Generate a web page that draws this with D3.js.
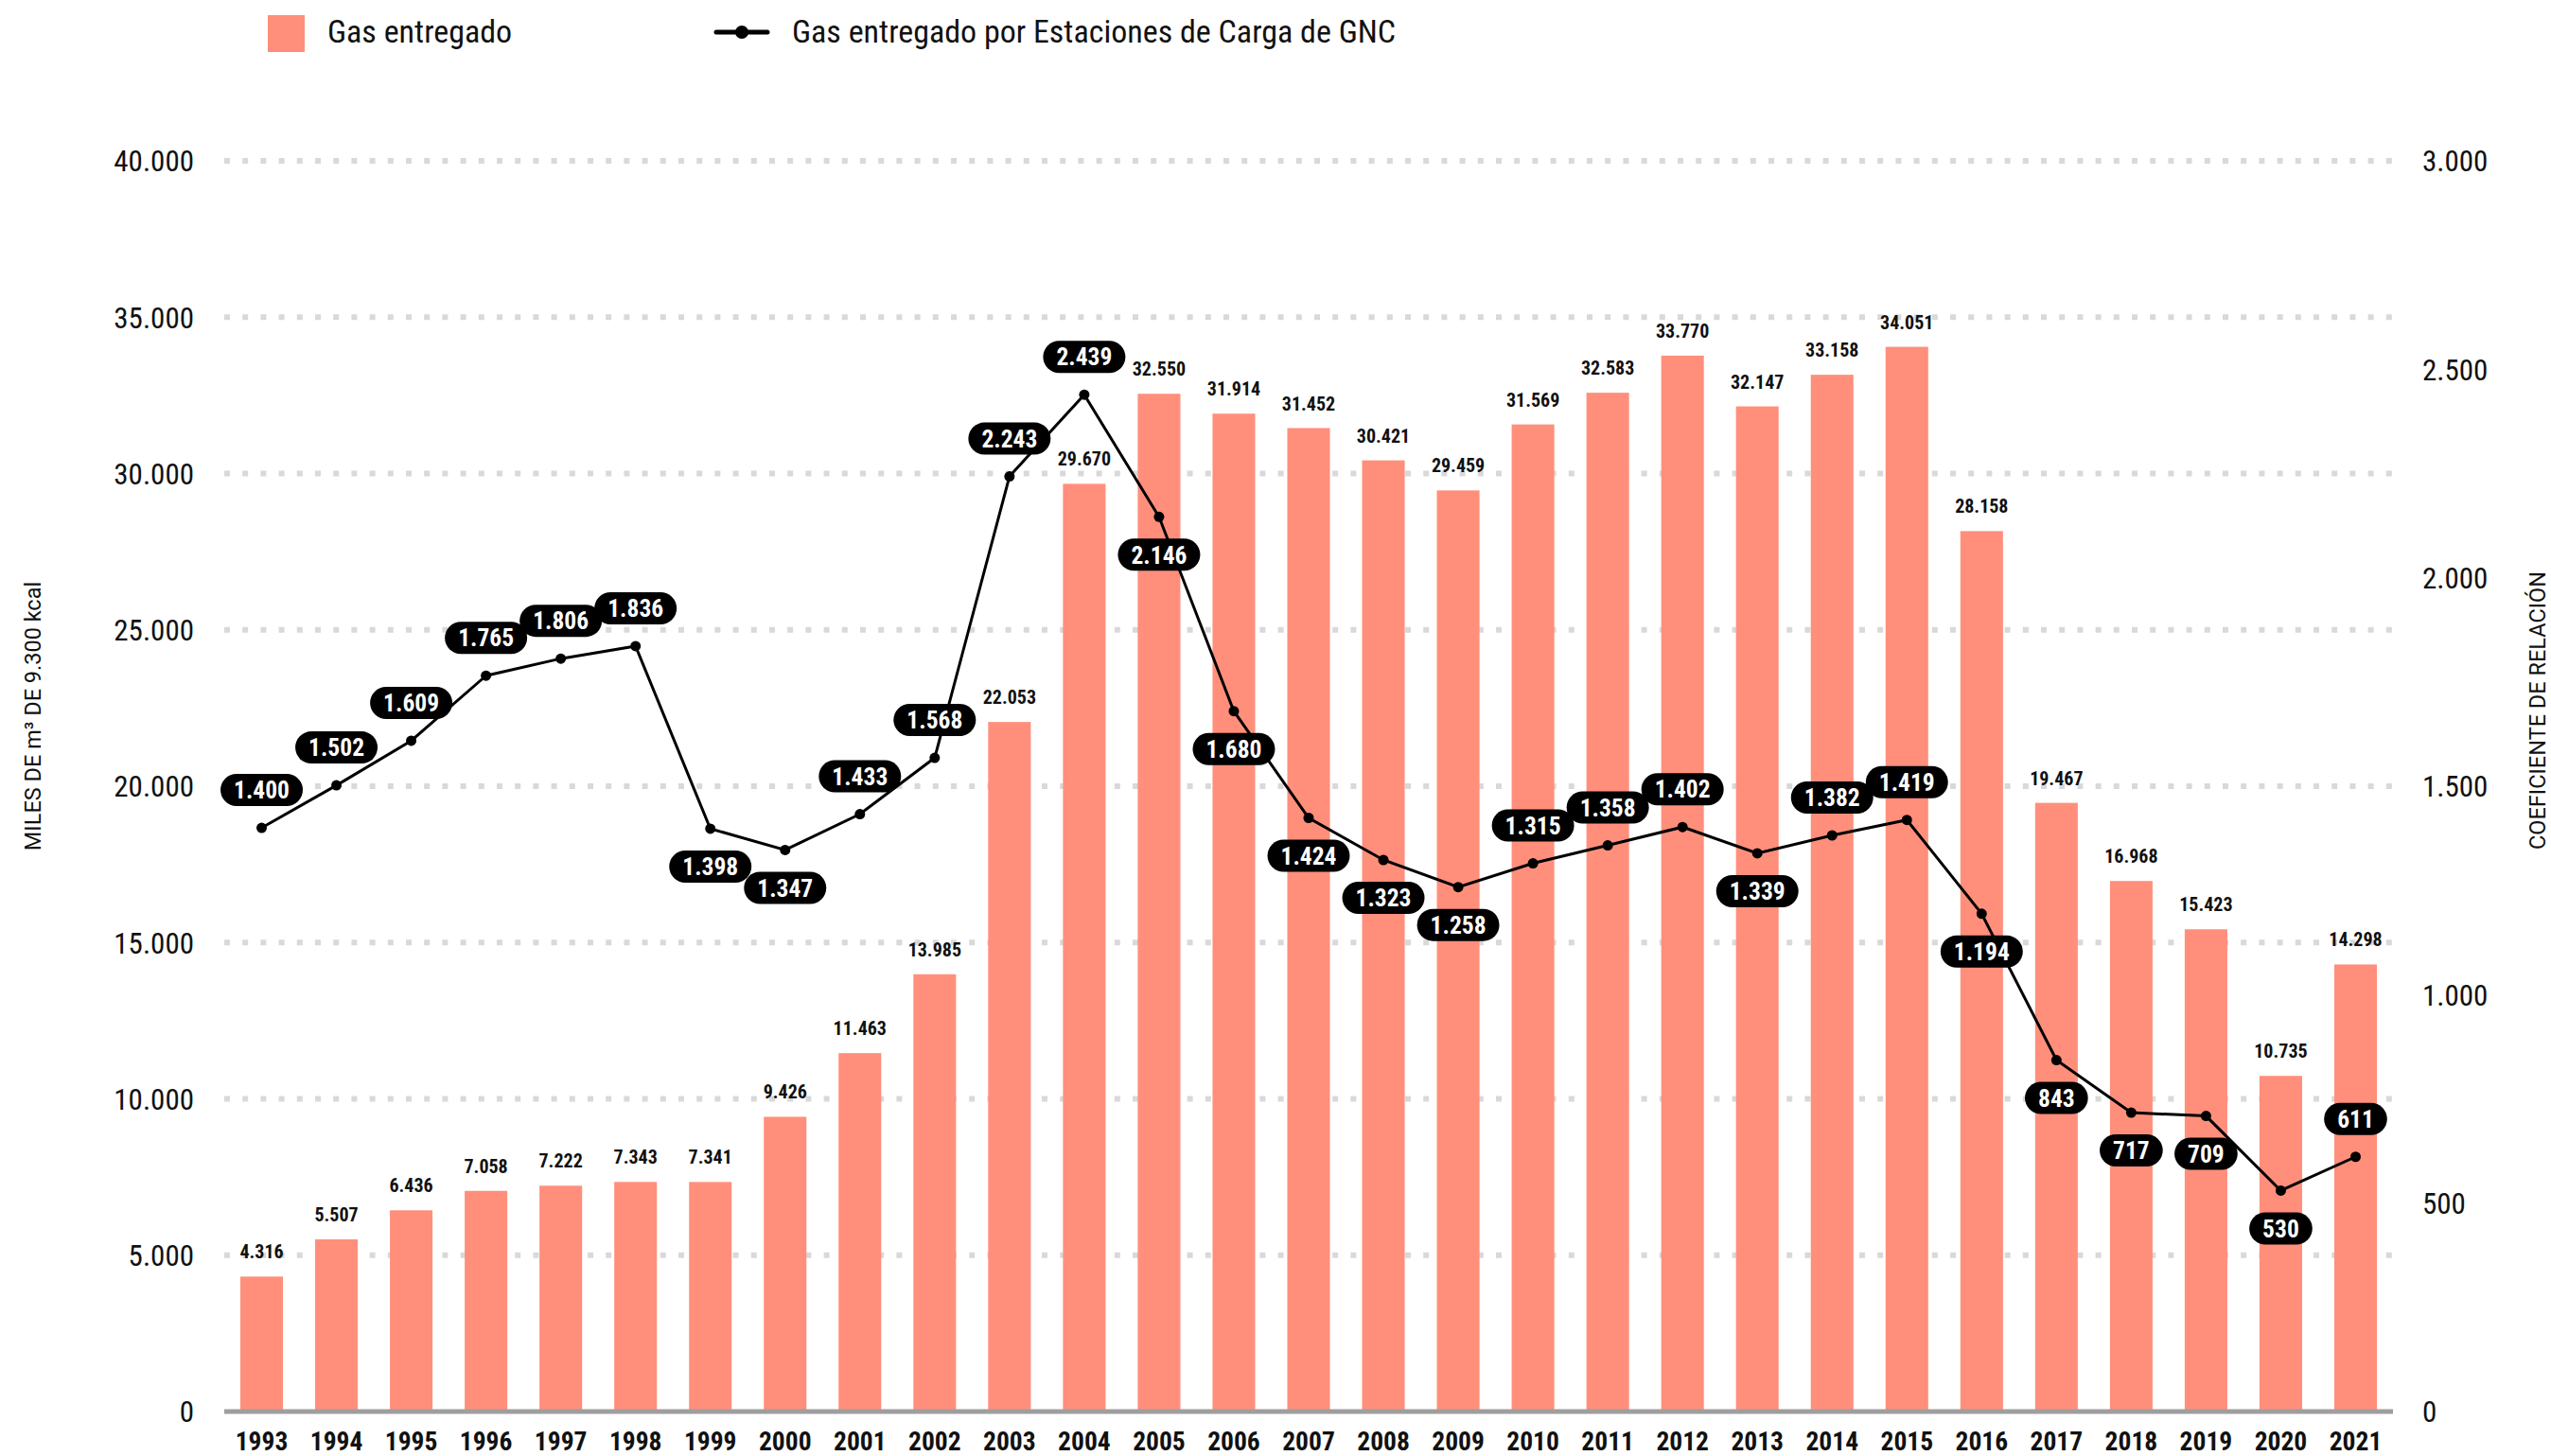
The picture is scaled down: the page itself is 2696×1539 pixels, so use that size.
<!DOCTYPE html>
<html>
<head>
<meta charset="utf-8">
<script src="https://cdn.jsdelivr.net/npm/d3@7/dist/d3.min.js"></script>
<style>
  html, body { margin: 0; padding: 0; background: #fff; }
  svg { display: block; font-family: 'Roboto Condensed', Roboto, sans-serif; }
</style>
</head>
<body>
<svg id="chart" width="2696" height="1539"></svg>
<script>
// ---- Data ----
const years = ["1993","1994","1995","1996","1997","1998","1999","2000","2001","2002","2003","2004","2005","2006","2007","2008","2009","2010","2011","2012","2013","2014","2015","2016","2017","2018","2019","2020","2021"];
const gasEntregado = [4316,5507,6436,7058,7222,7343,7341,9426,11463,13985,22053,29670,32550,31914,31452,30421,29459,31569,32583,33770,32147,33158,34051,28158,19467,16968,15423,10735,14298];
const gasGNC = [1400,1502,1609,1765,1806,1836,1398,1347,1433,1568,2243,2439,2146,1680,1424,1323,1258,1315,1358,1402,1339,1382,1419,1194,843,717,709,530,611];
// label side for the line values: "a" = above the point, "b" = below
const gncLabelSide = ["a","a","a","a","a","a","b","b","a","a","a","a","b","b","b","b","b","a","a","a","b","a","a","b","b","b","b","b","a"];
const leftTicks = [0,5000,10000,15000,20000,25000,30000,35000,40000];
const rightTicks = [0,500,1000,1500,2000,2500,3000];
const seriesNames = ["Gas entregado", "Gas entregado por Estaciones de Carga de GNC"];
const leftTitle = "MILES DE m³ DE 9.300 kcal";
const rightTitle = "COEFICIENTE DE RELACIÓN";

// ---- Layout ----
const BAR_COLOR = "#ff8f7b";
const plotLeft = 237, plotRight = 2529, plotTop = 170, plotBottom = 1492;

const loc = d3.formatLocale({decimal: ",", thousands: ".", grouping: [3], currency: ["$", ""]});
const fmt = loc.format(",d");

const svg = d3.select("#chart");

const x = d3.scaleBand().domain(years).range([plotLeft, plotRight]).paddingInner(0.43).paddingOuter(0.215);
const yL = d3.scaleLinear().domain([0, 40000]).range([plotBottom, plotTop]);
const yR = d3.scaleLinear().domain([0, 3000]).range([plotBottom, plotTop]);

// gridlines
svg.append("g").selectAll("line").data(leftTicks.filter(d => d > 0)).join("line")
  .attr("x1", plotLeft).attr("x2", plotRight)
  .attr("y1", d => yL(d)).attr("y2", d => yL(d))
  .attr("stroke", "#d9d9d9").attr("stroke-width", 6).attr("stroke-dasharray", "6 13.2");

// left axis labels
const leftAxis = d3.axisLeft(yL).tickValues(leftTicks).tickFormat(fmt).tickSize(0).tickPadding(0);
const gL = svg.append("g").attr("transform", "translate(205,0)").call(leftAxis);
gL.select(".domain").remove();
gL.selectAll("text").attr("font-size", 31).attr("fill", "#111").attr("font-family", "'Roboto Condensed', Roboto, sans-serif").attr("dy", "0.35em");

// right axis labels
const rightAxis = d3.axisRight(yR).tickValues(rightTicks).tickFormat(fmt).tickSize(0).tickPadding(0);
const gR = svg.append("g").attr("transform", "translate(2560,0)").call(rightAxis);
gR.select(".domain").remove();
gR.selectAll("text").attr("font-size", 31).attr("fill", "#111").attr("font-family", "'Roboto Condensed', Roboto, sans-serif").attr("dy", "0.35em");

// bars
svg.append("g").selectAll("rect").data(gasEntregado).join("rect")
  .attr("x", (d, i) => x(years[i]))
  .attr("width", x.bandwidth())
  .attr("y", d => yL(d))
  .attr("height", d => yL(0) - yL(d))
  .attr("fill", BAR_COLOR);

// bar value labels
svg.append("g").selectAll("text").data(gasEntregado).join("text")
  .attr("x", (d, i) => x(years[i]) + x.bandwidth() / 2)
  .attr("y", d => yL(d) - 19)
  .attr("text-anchor", "middle")
  .attr("font-size", 20).attr("font-weight", 700).attr("fill", "#111")
  .text(d => fmt(d));

// baseline axis
svg.append("line").attr("x1", plotLeft).attr("x2", plotRight)
  .attr("y1", plotBottom).attr("y2", plotBottom)
  .attr("stroke", "#9e9e9e").attr("stroke-width", 5);

// x axis labels
const xAxis = d3.axisBottom(x).tickSize(0).tickPadding(0);
const gX = svg.append("g").attr("transform", `translate(0,${plotBottom})`).call(xAxis);
gX.select(".domain").remove();
gX.selectAll("text").attr("font-size", 27.5).attr("font-weight", 700).attr("fill", "#111")
  .attr("font-family", "'Roboto Condensed', Roboto, sans-serif")
  .attr("dy", null).attr("y", 41);

// line
const cx = (d, i) => x(years[i]) + x.bandwidth() / 2;
const line = d3.line().x((d, i) => cx(d, i)).y(d => yR(d));
svg.append("path").datum(gasGNC).attr("d", line)
  .attr("fill", "none").attr("stroke", "#000").attr("stroke-width", 3);
svg.append("g").selectAll("circle").data(gasGNC).join("circle")
  .attr("cx", cx).attr("cy", d => yR(d)).attr("r", 5.5).attr("fill", "#000");

// line labels (pills)
const pills = svg.append("g").selectAll("g").data(gasGNC).join("g")
  .attr("transform", (d, i) => `translate(${cx(d, i)},${yR(d) + (gncLabelSide[i] === "a" ? -40 : 40)})`);
pills.append("text")
  .attr("text-anchor", "middle").attr("dy", "0.36em")
  .attr("font-size", 25.5).attr("font-weight", 700).attr("fill", "#fff")
  .text(d => fmt(d));
pills.each(function() {
  const g = d3.select(this);
  const w = g.select("text").node().getComputedTextLength() + 28;
  g.insert("rect", "text").attr("x", -w / 2).attr("y", -17).attr("width", w).attr("height", 34)
    .attr("rx", 17).attr("ry", 17).attr("fill", "#000");
});

// axis titles
svg.append("text").attr("transform", "translate(43,757) rotate(-90)")
  .attr("text-anchor", "middle").attr("font-size", 23.5).attr("fill", "#111")
  .attr("font-family", "Roboto, sans-serif")
  .text(leftTitle);
svg.append("text").attr("transform", "translate(2690,751) rotate(-90)")
  .attr("text-anchor", "middle").attr("font-size", 23.5).attr("fill", "#111")
  .attr("font-family", "Roboto, sans-serif")
  .text(rightTitle);

// legend
const lg = svg.append("g");
lg.append("rect").attr("x", 283).attr("y", 16).attr("width", 39).attr("height", 39).attr("fill", BAR_COLOR);
lg.append("text").attr("x", 346).attr("y", 45).attr("font-size", 34).attr("fill", "#111").text(seriesNames[0]);
lg.append("line").attr("x1", 757).attr("x2", 811).attr("y1", 34).attr("y2", 34)
  .attr("stroke", "#000").attr("stroke-width", 5).attr("stroke-linecap", "round");
lg.append("circle").attr("cx", 784).attr("cy", 34).attr("r", 7).attr("fill", "#000");
lg.append("text").attr("x", 837).attr("y", 45).attr("font-size", 34).attr("fill", "#111").text(seriesNames[1]);
</script>
</body>
</html>
